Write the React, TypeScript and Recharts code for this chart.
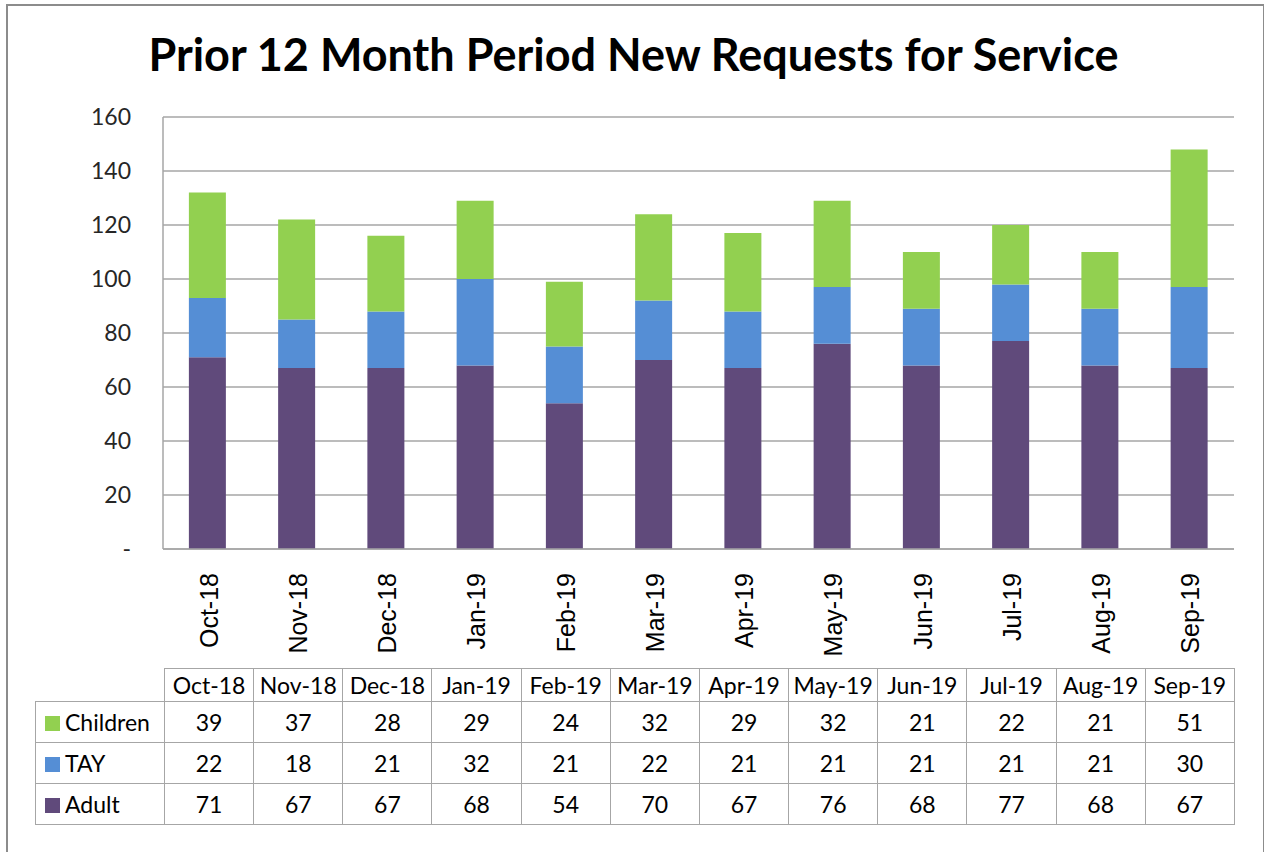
import React from 'react';
import { BarChart, Bar, XAxis, YAxis, CartesianGrid } from 'recharts';

const months = ['Oct-18', 'Nov-18', 'Dec-18', 'Jan-19', 'Feb-19', 'Mar-19', 'Apr-19', 'May-19', 'Jun-19', 'Jul-19', 'Aug-19', 'Sep-19'];
const children = [39, 37, 28, 29, 24, 32, 29, 32, 21, 22, 21, 51];
const tay = [22, 18, 21, 32, 21, 22, 21, 21, 21, 21, 21, 30];
const adult = [71, 67, 67, 68, 54, 70, 67, 76, 68, 77, 68, 67];
const yTicks = [0, 20, 40, 60, 80, 100, 120, 140, 160];

const series = [
  { key: 'children', name: 'Children', color: '#92D050', values: children },
  { key: 'tay', name: 'TAY', color: '#558ED5', values: tay },
  { key: 'adult', name: 'Adult', color: '#604A7B', values: adult },
];

const data = months.map((m, i) => ({ month: m, adult: adult[i], tay: tay[i], children: children[i] }));

const GRID = '#a6a6a6';
const calibri = 'Lato, "Open Sans", sans-serif';

function MonthTick(props: any) {
  const { x, y, payload } = props;
  return (
    <text
      transform={`translate(${x + 1},${y + 16}) rotate(-90)`}
      textAnchor="end"
      dy="0.36em"
      fontFamily='"Liberation Sans", Arial, sans-serif'
      fontSize={25}
      fill="#000"
    >
      {payload.value}
    </text>
  );
}

export default function App() {
  const cell: React.CSSProperties = {
    border: `1px solid ${GRID}`,
    textAlign: 'center',
    padding: 0,
    fontSize: 23,
    color: '#000',
  };
  return (
    <div style={{ position: 'absolute', left: 0, top: 0, width: 1264, height: 852, background: '#fff', overflow: 'hidden', fontFamily: calibri }}>
      <div style={{ position: 'absolute', left: 6, top: 4, width: 1255, height: 900, border: '2px solid #8c8c8c' }} />
      <div style={{ position: 'absolute', left: 0, top: 27, width: 1267, textAlign: 'center', fontSize: 45, fontWeight: 700, color: '#000' }}>
        Prior 12 Month Period New Requests for Service
      </div>
      <div style={{ position: 'absolute', left: 0, top: 0 }}>
        <BarChart width={1264} height={852} data={data} margin={{ top: 117, left: 100, right: 30, bottom: 180 }} barCategoryGap="29%">
          <CartesianGrid vertical={false} stroke={GRID} strokeWidth={1.5} />
          <XAxis dataKey="month" height={123} axisLine={{ stroke: GRID, strokeWidth: 1.5 }} tickLine={false} tick={<MonthTick />} interval={0} />
          <YAxis
            width={63}
            domain={[0, 160]}
            ticks={yTicks}
            interval={0}
            axisLine={{ stroke: GRID, strokeWidth: 1.5 }}
            tickLine={false}
            tickMargin={26}
            tickFormatter={(v: number) => (v === 0 ? '-' : String(v))}
            tick={{ fontFamily: calibri, fontSize: 23, fill: '#262626' }}
          />
          <Bar dataKey="adult" stackId="a" fill="#604A7B" isAnimationActive={false} />
          <Bar dataKey="tay" stackId="a" fill="#558ED5" isAnimationActive={false} />
          <Bar dataKey="children" stackId="a" fill="#92D050" isAnimationActive={false} />
        </BarChart>
      </div>
      <table style={{ position: 'absolute', left: 35, top: 668, borderCollapse: 'collapse', tableLayout: 'fixed', width: 1199, fontFamily: calibri }}>
        <colgroup>
          <col style={{ width: 129 }} />
          {months.map((m) => (
            <col key={m} style={{ width: 89.17 }} />
          ))}
        </colgroup>
        <tbody>
          <tr style={{ height: 33 }}>
            <td style={{ padding: 0, border: 'none' }} />
            {months.map((m) => (
              <td key={m} style={cell}>{m}</td>
            ))}
          </tr>
          {series.map((s) => (
            <tr key={s.key} style={{ height: 41 }}>
              <td style={{ ...cell, textAlign: 'left', paddingLeft: 9, whiteSpace: 'nowrap' }}>
                <span style={{ display: 'inline-block', width: 15, height: 15, background: s.color, marginRight: 5 }} />
                {s.name}
              </td>
              {s.values.map((v, i) => (
                <td key={i} style={cell}>{v}</td>
              ))}
            </tr>
          ))}
        </tbody>
      </table>
    </div>
  );
}
